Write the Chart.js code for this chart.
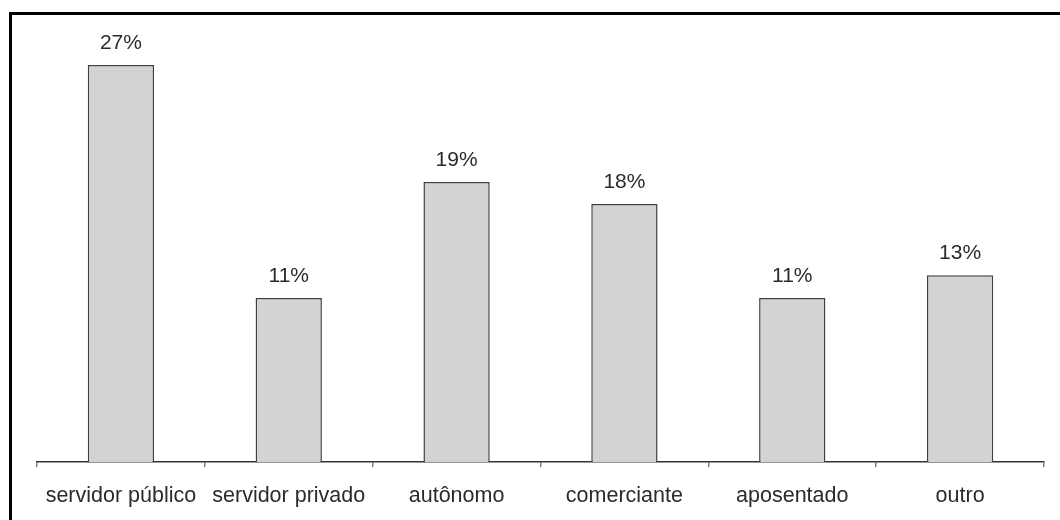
<!DOCTYPE html>
<html>
<head>
<meta charset="utf-8">
<script src="https://cdn.jsdelivr.net/npm/chart.js@4/dist/chart.umd.min.js"></script>
<style>
  html, body { margin: 0; padding: 0; background: #fff; }
  #wrap { position: absolute; left: 0; top: 0; width: 1060px; height: 520px; }
</style>
</head>
<body>
<div id="wrap"><canvas id="chart"></canvas></div>
<script>
/************** DATA **************/
const categories = ["servidor público", "servidor privado", "autônomo", "comerciante", "aposentado", "outro"];
const shares = [27, 11.15, 19.05, 17.55, 11.15, 12.7];

/************** PLUGINS **************/
// moldura (só esquerda e topo, como no recorte)
const framePlugin = {
  id: "frame",
  beforeDraw(chart) {
    const ctx = chart.ctx;
    ctx.save();
    ctx.fillStyle = "#fff";
    ctx.fillRect(0, 0, chart.width, chart.height);
    ctx.fillStyle = "#000";
    ctx.fillRect(9, 12, 3, chart.height - 12);
    ctx.fillRect(9, 12, chart.width - 9, 3);
    ctx.restore();
  }
};

// rótulos de porcentagem acima das barras
const valueLabels = {
  id: "valueLabels",
  afterDatasetsDraw(chart) {
    const ctx = chart.ctx;
    const meta = chart.getDatasetMeta(0);
    ctx.save();
    ctx.font = "21px 'Liberation Sans', Arial, sans-serif";
    ctx.fillStyle = "#2b2b2b";
    ctx.textAlign = "center";
    ctx.textBaseline = "alphabetic";
    meta.data.forEach((bar, i) => {
      ctx.fillText(Math.round(shares[i]) + "%", bar.x, bar.y - 16);
    });
    ctx.restore();
  }
};

/************** CHART **************/
const ctx = document.getElementById("chart").getContext("2d");

new Chart(ctx, {
  type: "bar",
  data: {
    labels: categories,
    datasets: [{
      data: shares,
      backgroundColor: "#d3d3d3",
      borderColor: "#404040",
      borderWidth: 1.5,
      categoryPercentage: 1,
      barPercentage: 0.395
    }]
  },
  options: {
    responsive: true,
    maintainAspectRatio: false,
    animation: false,
    layout: { padding: { left: 37, right: 16, top: 21, bottom: 0 } },
    plugins: {
      legend: { display: false },
      tooltip: { enabled: false }
    },
    scales: {
      x: {
        grid: {
          offset: true,
          drawOnChartArea: false,
          drawTicks: true,
          tickLength: 5,
          color: "#808080",
          lineWidth: 1.5
        },
        border: { display: true, color: "#333", width: 1.5 },
        ticks: {
          color: "#2b2b2b",
          padding: 16,
          maxRotation: 0,
          autoSkip: false,
          font: { family: "'Liberation Sans', Arial, sans-serif", size: 21.5 }
        },
        afterFit(scale) { scale.height = 58; }
      },
      y: {
        display: false,
        min: 0,
        max: 30
      }
    }
  },
  plugins: [framePlugin, valueLabels]
});
</script>
</body>
</html>
